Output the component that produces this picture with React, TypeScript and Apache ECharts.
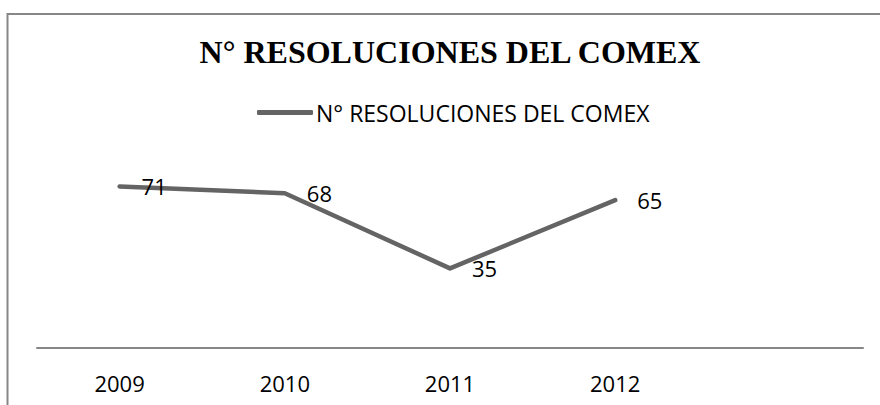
import React, { useEffect, useRef } from "react";
import * as echarts from "echarts";

const titleText = "N° RESOLUCIONES DEL COMEX";
const seriesName = "N° RESOLUCIONES DEL COMEX";
const categories = ["2009", "2010", "2011", "2012", ""];
const values = [71, 68, 35, 65, null];
const yMin = 0;
const yMax = 80;

export default function App() {
  const ref = useRef<HTMLDivElement>(null);
  useEffect(() => {
    if (!ref.current) return;
    const chart = echarts.init(ref.current, null, { renderer: "svg" });
    chart.setOption({
      animation: false,
      backgroundColor: "#ffffff",
      title: {
        text: titleText,
        left: 450,
        textAlign: "center",
        top: 36,
        padding: 0,
        textStyle: {
          fontFamily: "Liberation Serif",
          fontWeight: "bold",
          fontSize: 32,
          color: "#000000",
        },
      },
      legend: {
        left: 257,
        top: 101,
        padding: 0,
        itemWidth: 56,
        itemHeight: 5,
        icon: "roundRect",
        textStyle: {
          fontFamily: "Open Sans",
          fontSize: 23,
          color: "#000000",
          padding: [0, 0, 0, -2],
        },
        data: [{ name: seriesName, itemStyle: { color: "#646464" } }],
      },
      graphic: [
        {
          type: "rect",
          shape: { x: 7.5, y: 14, width: 1000, height: 600 },
          style: { fill: "none", stroke: "#878787", lineWidth: 2 },
          silent: true,
          z: 100,
        },
      ],
      grid: { left: 37, right: 17, top: 166, bottom: 57 },
      xAxis: {
        type: "category",
        data: categories,
        boundaryGap: true,
        axisLine: { show: true, lineStyle: { color: "#878787", width: 2 } },
        axisTick: { show: false },
        axisLabel: {
          margin: 24,
          fontFamily: "Open Sans",
          fontSize: 22,
          lineHeight: 22,
          color: "#000000",
          interval: 0,
        },
        splitLine: { show: false },
      },
      yAxis: {
        type: "value",
        min: yMin,
        max: yMax,
        show: false,
        splitLine: { show: false },
      },
      series: [
        {
          name: seriesName,
          type: "line",
          data: values,
          symbol: "circle",
          symbolSize: 0,
          showSymbol: true,
          lineStyle: { color: "#646464", width: 4.5, cap: "round", join: "round" },
          itemStyle: { color: "#646464" },
          label: {
            show: true,
            position: "right",
            distance: 22,
            fontFamily: "Open Sans",
            fontSize: 22,
            color: "#000000",
          },
        },
      ],
    });
    return () => chart.dispose();
  }, []);
  return (
    <div
      ref={ref}
      style={{ position: "absolute", left: 0, top: 0, width: 880, height: 405 }}
    />
  );
}
